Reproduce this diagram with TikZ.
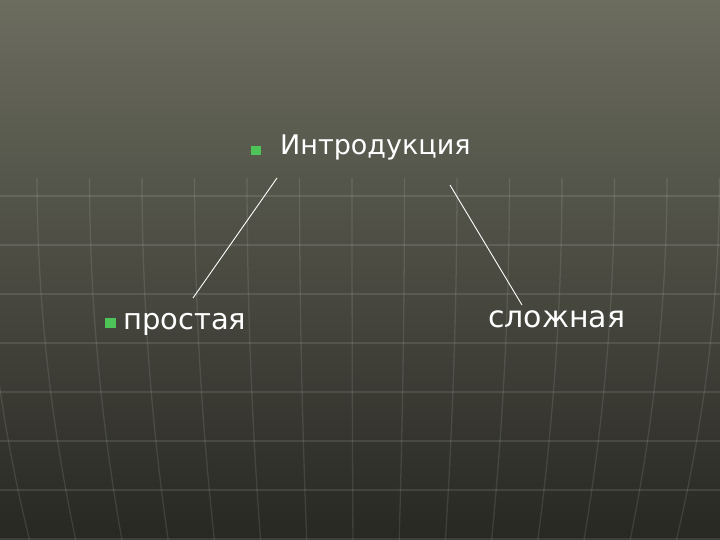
\documentclass[tikz,border=0pt]{standalone}
\usepackage{fontspec}
\setmainfont{DejaVu Sans}
\definecolor{bgtop}{RGB}{108,109,95}
\definecolor{bgmid}{RGB}{78,78,67}
\definecolor{bgbot}{RGB}{40,40,35}
\definecolor{bulletgreen}{RGB}{78,196,88}
\tikzset{
  label/.style={text=white, font=\fontsize{29}{34}\selectfont, inner sep=0pt, anchor=base west},
  bulletsq/.style={fill=bulletgreen, draw=none, minimum width=10pt, minimum height=9pt, inner sep=0pt},
  gridline/.style={white, opacity=0.10, line width=1.3pt},
  connector/.style={white, line width=0.9pt}
}
\begin{document}
\begin{tikzpicture}[x=1pt,y=-1pt]
\useasboundingbox (0,0) rectangle (720,540);
\shade[top color=bgtop, middle color=bgmid, bottom color=bgbot] (0,0) rectangle (720,540);
% horizontal grid lines
\foreach \yy in {196,245,294,343,392,441,490,539}
  \draw[gridline] (0,\yy) -- (720,\yy);
% curved meridians
\foreach \i in {-2,...,14} {
  \pgfmathsetmacro{\xo}{37+52.5*\i}
  \draw[gridline] plot[domain=178:540, samples=25, smooth, variable=\yy]
    ({360+(\xo-360)*(1-0.12*((\yy-175)/365)^2)}, \yy);
}
% texts
\node[bulletsq, anchor=north west] (b1) at (251,146) {};
\node[label, font=\fontsize{27}{32}\selectfont] (intro) at (280,155) {Интродукция};
\node[bulletsq, anchor=north west, minimum width=11pt, minimum height=10pt] (b2) at (105,318) {};
\node[label] (prost) at (123,329) {простая};
\node[label, font=\fontsize{30}{35}\selectfont] (slozh) at (488,327) {сложная};
% connector endpoints
\coordinate (l1) at (277,178);
\coordinate (l2) at (193,298);
\coordinate (r1) at (450,185);
\coordinate (r2) at (522,305);
\draw[connector] (l1) -- (l2);
\draw[connector] (r1) -- (r2);
\end{tikzpicture}
\end{document}
